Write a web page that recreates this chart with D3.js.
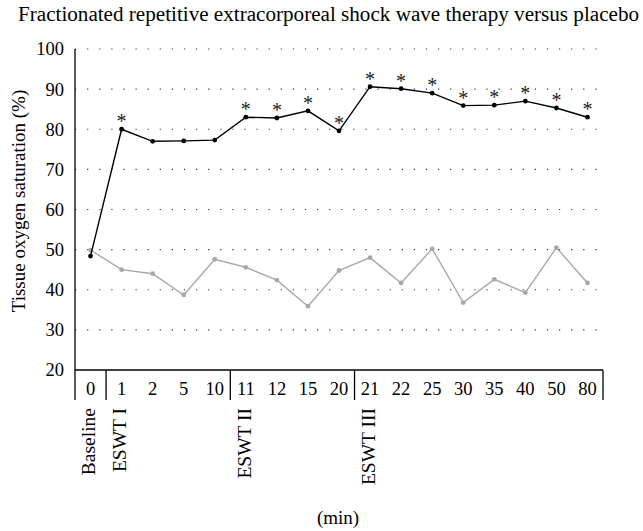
<!DOCTYPE html>
<html>
<head>
<meta charset="utf-8">
<script src="https://cdn.jsdelivr.net/npm/d3@7"></script>
<style>
  body { margin: 0; background: #fff; }
  text { font-family: "Liberation Serif", "DejaVu Serif", serif; fill: #000; }
</style>
</head>
<body>
<div id="chart"></div>
<script>
// Time points (min)
const minutes = ["0", "1", "2", "5", "10", "11", "12", "15", "20", "21", "22", "25", "30", "35", "40", "50", "80"];
// Shock wave therapy (black)
const eswtValues = [48.4, 80.0, 77.0, 77.1, 77.3, 83.0, 82.8, 84.6, 79.6, 90.6, 90.1, 89.0, 85.9, 86.0, 87.0, 85.3, 83.0];
// Placebo (gray)
const placeboValues = [49.9, 45.0, 44.0, 38.7, 47.6, 45.6, 42.4, 35.9, 44.8, 48.0, 41.7, 50.2, 36.8, 42.6, 39.3, 50.5, 41.7];
// Significant points
const significant = ["1", "11", "12", "15", "20", "21", "22", "25", "30", "35", "40", "50", "80"];
// Treatment groups and the time point where each starts
const groupLabels = ["Baseline", "ESWT I", "ESWT II", "ESWT III"];
const groupStarts = ["0", "1", "11", "21"];
const yTicks = [20, 30, 40, 50, 60, 70, 80, 90, 100];

const W = 643, H = 531;
const margin = {top: 49, right: 40, bottom: 161, left: 75};
const width = W - margin.left - margin.right,
      height = H - margin.top - margin.bottom;

const svg = d3.select("#chart").append("svg")
    .attr("width", W)
    .attr("height", H)
  .append("g")
    .attr("transform", `translate(${margin.left},${margin.top})`);

const x = d3.scaleBand().domain(minutes).range([0, width]);
const y = d3.scaleLinear().domain([20, 100]).range([height, 0]);
const cx = d => x(d) + x.bandwidth() / 2;

// Title
svg.append("text")
    .attr("x", -57)
    .attr("y", -28)
    .attr("textLength", 621)
    .attr("lengthAdjust", "spacingAndGlyphs")
    .style("font-size", "20px")
    .text("Fractionated repetitive extracorporeal shock wave therapy versus placebo");

// Dotted grid
svg.selectAll(".grid")
  .data(yTicks.filter(d => d > 20))
  .enter().append("line")
    .attr("x1", 0)
    .attr("x2", width)
    .attr("y1", d => y(d))
    .attr("y2", d => y(d))
    .attr("stroke", "#333")
    .attr("stroke-width", 1.2)
    .attr("stroke-dasharray", "1.2,10.9");

// Y axis
svg.append("line")
    .attr("x1", 0).attr("x2", 0)
    .attr("y1", 0).attr("y2", height + 30)
    .attr("stroke", "#000").attr("stroke-width", 1.3);
svg.selectAll(".ylab")
  .data(yTicks)
  .enter().append("text")
    .attr("x", -11)
    .attr("y", d => y(d))
    .attr("dy", "0.35em")
    .attr("text-anchor", "end")
    .style("font-size", "18.5px")
    .text(d => d);

svg.append("text")
    .attr("transform", `translate(-50,152) rotate(-90)`)
    .attr("text-anchor", "middle")
    .style("font-size", "19px")
    .text("Tissue oxygen saturation (%)");

// X axis line and category labels
svg.append("line")
    .attr("x1", 0).attr("x2", width)
    .attr("y1", height).attr("y2", height)
    .attr("stroke", "#000").attr("stroke-width", 1.3);

const dividers = groupStarts.slice(1).map(d => x(d)).concat([width]);
svg.selectAll(".div")
  .data(dividers)
  .enter().append("line")
    .attr("x1", d => d).attr("x2", d => d)
    .attr("y1", height).attr("y2", height + 30)
    .attr("stroke", "#000").attr("stroke-width", 1.3);

svg.selectAll(".xlab")
  .data(minutes)
  .enter().append("text")
    .attr("x", d => cx(d))
    .attr("y", height + 25)
    .attr("text-anchor", "middle")
    .style("font-size", "18.5px")
    .text(d => d);

svg.selectAll(".grp")
  .data(groupLabels)
  .enter().append("text")
    .attr("transform", (d, i) => `translate(${cx(groupStarts[i]) - 2},${height + 38}) rotate(-90)`)
    .attr("dy", "0.35em")
    .attr("text-anchor", "end")
    .style("font-size", "19.5px")
    .text(d => d);

svg.append("text")
    .attr("x", 263)
    .attr("y", height + 154)
    .attr("text-anchor", "middle")
    .style("font-size", "19px")
    .text("(min)");

// Lines
const line = d3.line()
    .x((d, i) => cx(minutes[i]))
    .y(d => y(d));

svg.append("path")
    .datum(placeboValues)
    .attr("fill", "none")
    .attr("stroke", "#a8a8a8")
    .attr("stroke-width", 1.4)
    .attr("d", line);
svg.selectAll(".pdot")
  .data(placeboValues)
  .enter().append("circle")
    .attr("cx", (d, i) => cx(minutes[i]))
    .attr("cy", d => y(d))
    .attr("r", 2.4)
    .attr("fill", "#a8a8a8");

svg.append("path")
    .datum(eswtValues)
    .attr("fill", "none")
    .attr("stroke", "#000")
    .attr("stroke-width", 1.4)
    .attr("d", line);
svg.selectAll(".edot")
  .data(eswtValues)
  .enter().append("circle")
    .attr("cx", (d, i) => cx(minutes[i]))
    .attr("cy", d => y(d))
    .attr("r", 2.4)
    .attr("fill", "#000");

// Significance asterisks
svg.selectAll(".star")
  .data(minutes.map((m, i) => ({m, v: eswtValues[i]})).filter(d => significant.includes(d.m)))
  .enter().append("text")
    .attr("x", d => cx(d.m))
    .attr("y", d => y(d.v) - 1)
    .attr("text-anchor", "middle")
    .style("font-size", "20px")
    .style("fill", "#222")
    .text("*");
</script>
</body>
</html>
